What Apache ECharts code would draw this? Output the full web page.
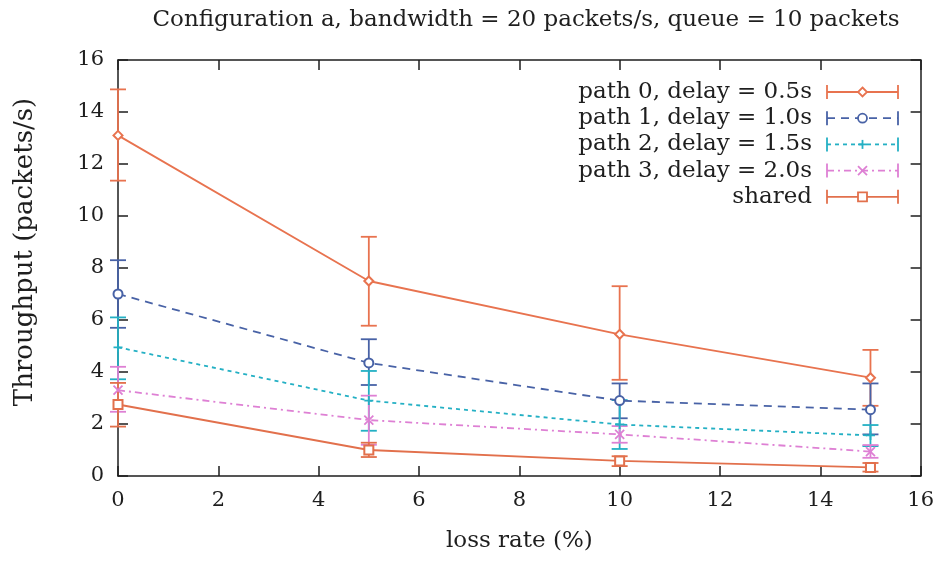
<!DOCTYPE html>
<html>
<head>
<meta charset="utf-8">
<script src="https://cdn.jsdelivr.net/npm/echarts@6/dist/echarts.min.js"></script>
<style>
  html, body { margin: 0; padding: 0; background: #fff; }
  #chart { width: 937px; height: 561px; }
</style>
</head>
<body>
<div id="chart"></div>
<script>
// Loss rates (%) on the x axis
const lossRates = [0, 5, 10, 15];

// Mean throughput (packets/s) and error-bar bounds per path
const path0 = [13.1, 7.5, 5.45, 3.78];
const path0Low = [11.36, 5.78, 3.7, 2.7];
const path0High = [14.87, 9.2, 7.3, 4.85];

const path1 = [7.0, 4.35, 2.9, 2.55];
const path1Low = [5.7, 3.5, 2.22, 1.6];
const path1High = [8.3, 5.26, 3.56, 3.56];

const path2 = [4.95, 2.9, 1.98, 1.56];
const path2Low = [3.72, 1.74, 1.04, 1.15];
const path2High = [6.1, 4.04, 2.92, 1.96];

const path3 = [3.3, 2.15, 1.6, 0.94];
const path3Low = [2.47, 1.2, 1.28, 0.7];
const path3High = [4.2, 3.09, 1.92, 1.19];

const shared = [2.75, 1.0, 0.58, 0.33];
const sharedLow = [1.9, 0.73, 0.38, 0.17];
const sharedHigh = [3.58, 1.28, 0.76, 0.5];

const seriesNames = [
  'path 0, delay = 0.5s',
  'path 1, delay = 1.0s',
  'path 2, delay = 1.5s',
  'path 3, delay = 2.0s',
  'shared'
];
const means = [path0, path1, path2, path3, shared];
const lows = [path0Low, path1Low, path2Low, path3Low, sharedLow];
const highs = [path0High, path1High, path2High, path3High, sharedHigh];

const xTicks = [0, 2, 4, 6, 8, 10, 12, 14, 16];
const yTicks = [0, 2, 4, 6, 8, 10, 12, 14, 16];

const FONT = 'DejaVu Serif';
const INK = '#1e1e1e';
const LW = 1.8;

const plusPath = 'path://M0,5L10,5M5,0L5,10';
const crossPath = 'path://M0,0L10,10M10,0L0,10';

const looks = [
  { color: '#e8734f', dash: 'solid', symbol: 'emptyDiamond', kind: 'diamond' },
  { color: '#4862a6', dash: [8, 6], symbol: 'emptyCircle', kind: 'circle' },
  { color: '#24b0c4', dash: [4, 4], symbol: plusPath, kind: 'plus' },
  { color: '#de80d4', dash: [7, 4, 2, 4], symbol: crossPath, kind: 'cross' },
  { color: '#e2704c', dash: 'solid', symbol: 'emptyRect', kind: 'square' }
];

const chart = echarts.init(document.getElementById('chart'));

const series = [];
means.forEach(function (vals, i) {
  const look = looks[i];
  // error bars
  series.push({
    type: 'custom',
    name: seriesNames[i] + ' err',
    xAxisIndex: 0,
    yAxisIndex: 0,
    clip: false,
    z: 2,
    data: lossRates.map(function (x, k) { return [x, lows[i][k], highs[i][k]]; }),
    renderItem: function (params, api) {
      const lo = api.coord([api.value(0), api.value(1)]);
      const hi = api.coord([api.value(0), api.value(2)]);
      const w = 8;
      const st = { stroke: look.color, lineWidth: LW };
      return {
        type: 'group',
        children: [
          { type: 'line', shape: { x1: lo[0], y1: lo[1], x2: hi[0], y2: hi[1] }, style: st },
          { type: 'line', shape: { x1: lo[0] - w, y1: lo[1], x2: lo[0] + w, y2: lo[1] }, style: st },
          { type: 'line', shape: { x1: hi[0] - w, y1: hi[1], x2: hi[0] + w, y2: hi[1] }, style: st }
        ]
      };
    }
  });
  // mean line with markers
  series.push({
    type: 'line',
    name: seriesNames[i],
    xAxisIndex: 0,
    yAxisIndex: 0,
    z: 3,
    data: lossRates.map(function (x, k) { return [x, vals[k]]; }),
    symbol: look.symbol,
    symbolSize: 9,
    showAllSymbol: true,
    clip: false,
    lineStyle: { color: look.color, width: LW, type: look.dash },
    itemStyle: { color: look.color, borderColor: look.color, borderWidth: LW },
    emphasis: { disabled: true },
    animation: false
  });
});

// Legend drawn as text plus a sample line with error caps and marker
const legendGraphics = [];
const legendRight = 812, sampleL = 827, sampleR = 898, rowTop = 92, rowStep = 26.2;
seriesNames.forEach(function (name, i) {
  const look = looks[i];
  const y = rowTop + i * rowStep;
  const mx = (sampleL + sampleR) / 2;
  const st = { stroke: look.color, lineWidth: LW, fill: null };
  legendGraphics.push({
    type: 'text', x: legendRight, y: y,
    style: { text: name, font: '23px "' + FONT + '"', fill: INK, textAlign: 'right', textVerticalAlign: 'middle' }
  });
  legendGraphics.push({ type: 'line', shape: { x1: sampleL, y1: y, x2: sampleR, y2: y },
    style: Object.assign({}, st, { lineDash: look.dash === 'solid' ? null : look.dash }) });
  legendGraphics.push({ type: 'line', shape: { x1: sampleL, y1: y - 7, x2: sampleL, y2: y + 7 }, style: st });
  legendGraphics.push({ type: 'line', shape: { x1: sampleR, y1: y - 7, x2: sampleR, y2: y + 7 }, style: st });
  const r = 4.5;
  if (look.kind === 'diamond') {
    legendGraphics.push({ type: 'polygon', shape: { points: [[mx, y - r], [mx + r, y], [mx, y + r], [mx - r, y]] }, style: { stroke: look.color, lineWidth: LW, fill: '#fff' } });
  } else if (look.kind === 'circle') {
    legendGraphics.push({ type: 'circle', shape: { cx: mx, cy: y, r: r }, style: { stroke: look.color, lineWidth: LW, fill: '#fff' } });
  } else if (look.kind === 'square') {
    legendGraphics.push({ type: 'rect', shape: { x: mx - r, y: y - r, width: 2 * r, height: 2 * r }, style: { stroke: look.color, lineWidth: LW, fill: '#fff' } });
  } else if (look.kind === 'plus') {
    legendGraphics.push({ type: 'line', shape: { x1: mx - r, y1: y, x2: mx + r, y2: y }, style: st });
    legendGraphics.push({ type: 'line', shape: { x1: mx, y1: y - r, x2: mx, y2: y + r }, style: st });
  } else {
    legendGraphics.push({ type: 'line', shape: { x1: mx - r, y1: y - r, x2: mx + r, y2: y + r }, style: st });
    legendGraphics.push({ type: 'line', shape: { x1: mx - r, y1: y + r, x2: mx + r, y2: y - r }, style: st });
  }
});

const axisLine = { show: true, onZero: false, lineStyle: { color: INK, width: 1.5 } };
const axisTick = { show: true, inside: true, length: 10, lineStyle: { color: INK, width: 1.5 } };
const labelStyle = { fontFamily: FONT, fontSize: 21, color: INK };

chart.setOption({
  backgroundColor: '#fff',
  animation: false,
  title: {
    text: 'Configuration a, bandwidth = 20 packets/s, queue = 10 packets',
    left: 521,
    textAlign: 'center',
    top: 4,
    textStyle: { fontFamily: FONT, fontSize: 23, fontWeight: 'normal', color: INK }
  },
  grid: { left: 118, right: 15, top: 60, bottom: 85 },
  xAxis: [
    {
      type: 'value', min: 0, max: 16, interval: 2, position: 'bottom',
      name: 'loss rate (%)', nameLocation: 'middle', nameGap: 54,
      nameTextStyle: { fontFamily: FONT, fontSize: 23, color: INK },
      axisLine: axisLine, axisTick: axisTick,
      axisLabel: Object.assign({ margin: 14, customValues: xTicks }, labelStyle),
      splitLine: { show: false }
    },
    {
      type: 'value', min: 0, max: 16, interval: 2, position: 'top',
      axisLine: axisLine, axisTick: axisTick, axisLabel: { show: false }, splitLine: { show: false }
    }
  ],
  yAxis: [
    {
      type: 'value', min: 0, max: 16, interval: 2, position: 'left',
      name: 'Throughput (packets/s)', nameLocation: 'middle', nameGap: 80,
      nameTextStyle: { fontFamily: FONT, fontSize: 26, color: INK, padding: [0, 0, 0, 32] },
      axisLine: axisLine, axisTick: axisTick,
      axisLabel: Object.assign({ margin: 14, customValues: yTicks }, labelStyle),
      splitLine: { show: false }
    },
    {
      type: 'value', min: 0, max: 16, interval: 2, position: 'right',
      axisLine: axisLine, axisTick: axisTick, axisLabel: { show: false }, splitLine: { show: false }
    }
  ],
  graphic: legendGraphics,
  series: series
});
</script>
</body>
</html>
